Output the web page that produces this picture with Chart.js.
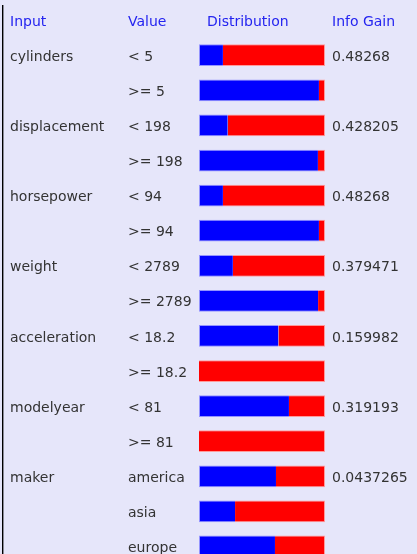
<!DOCTYPE html>
<html>
<head>
<meta charset="utf-8">
<script src="https://cdn.jsdelivr.net/npm/chart.js@4/dist/chart.umd.min.js"></script>
<style>
  html, body { margin: 0; padding: 0; overflow: hidden; background: #e6e6fa; }
  #wrap { position: relative; width: 417px; height: 564px; }
</style>
</head>
<body>
<div id="wrap"><canvas id="gainChart" width="417" height="564"></canvas></div>
<script>
// Таблица информационного выигрыша по входам
const headers = ['Input', 'Value', 'Distribution', 'Info Gain'];

const rowInput = ['cylinders', '', 'displacement', '', 'horsepower', '', 'weight', '',
  'acceleration', '', 'modelyear', '', 'maker', '', ''];
const rowValue = ['< 5', '>= 5', '< 198', '>= 198', '< 94', '>= 94', '< 2789', '>= 2789',
  '< 18.2', '>= 18.2', '< 81', '>= 81', 'america', 'asia', 'europe'];
const infoGain = ['0.48268', '', '0.428205', '', '0.48268', '', '0.379471', '',
  '0.159982', '', '0.319193', '', '0.0437265', '', ''];

// Доли классов в каждой строке (синий / красный)
const blueShare = [0.19, 0.952, 0.228, 0.944, 0.19, 0.952, 0.269, 0.945,
  0.63, 0, 0.714, 0, 0.611, 0.286, 0.603];
const redShare = [0.81, 0.048, 0.772, 0.056, 0.81, 0.048, 0.731, 0.055,
  0.37, 1, 0.286, 1, 0.389, 0.714, 0.397];

const FONT = '14px "DejaVu Sans", sans-serif';
const HEAD_COLOR = '#2424f0';
const TEXT_COLOR = '#333333';
const TEXT_SHIFT = 2; // подвинуть текст к центру строки

const tablePlugin = {
  id: 'tableText',
  beforeDraw(chart) {
    const ctx = chart.ctx;
    ctx.save();
    ctx.fillStyle = '#e6e6fa';
    ctx.fillRect(0, 0, chart.width, chart.height);
    // левая рамка
    ctx.fillStyle = '#000';
    ctx.fillRect(2, 5, 1.4, chart.height);
    ctx.restore();
  },
  afterDraw(chart) {
    const ctx = chart.ctx;
    const yScale = chart.scales.y;
    ctx.save();
    ctx.font = FONT;
    ctx.textBaseline = 'middle';
    ctx.textAlign = 'left';

    const colX = [10, 128, 207, 332];
    ctx.fillStyle = HEAD_COLOR;
    headers.forEach((h, i) => ctx.fillText(h, colX[i], 20 + TEXT_SHIFT));

    ctx.fillStyle = TEXT_COLOR;
    rowValue.forEach((v, i) => {
      const y = yScale.getPixelForValue(i) + TEXT_SHIFT;
      if (rowInput[i]) ctx.fillText(rowInput[i], colX[0], y);
      ctx.fillText(v, colX[1], y);
      if (infoGain[i]) ctx.fillText(infoGain[i], colX[3], y);
    });
    ctx.restore();
  }
};

new Chart(document.getElementById('gainChart'), {
  type: 'bar',
  data: {
    labels: rowValue,
    datasets: [
      {
        data: blueShare,
        backgroundColor: '#0000ff',
        borderColor: '#9494ff',
        borderWidth: 1,
        borderSkipped: 'end'
      },
      {
        data: redShare,
        backgroundColor: '#ff0000',
        borderColor: '#ff9a9a',
        borderWidth: 1,
        borderSkipped: 'start'
      }
    ]
  },
  options: {
    indexAxis: 'y',
    responsive: false,
    animation: false,
    devicePixelRatio: 1,
    layout: { padding: { left: 199, right: 92, top: 37.7, bottom: 0 } },
    datasets: { bar: { barPercentage: 0.62, categoryPercentage: 1 } },
    plugins: { legend: { display: false }, tooltip: { enabled: false } },
    scales: {
      x: { display: false, stacked: true, min: 0, max: 1 },
      y: { display: false, stacked: true }
    }
  },
  plugins: [tablePlugin]
});
</script>
</body>
</html>
